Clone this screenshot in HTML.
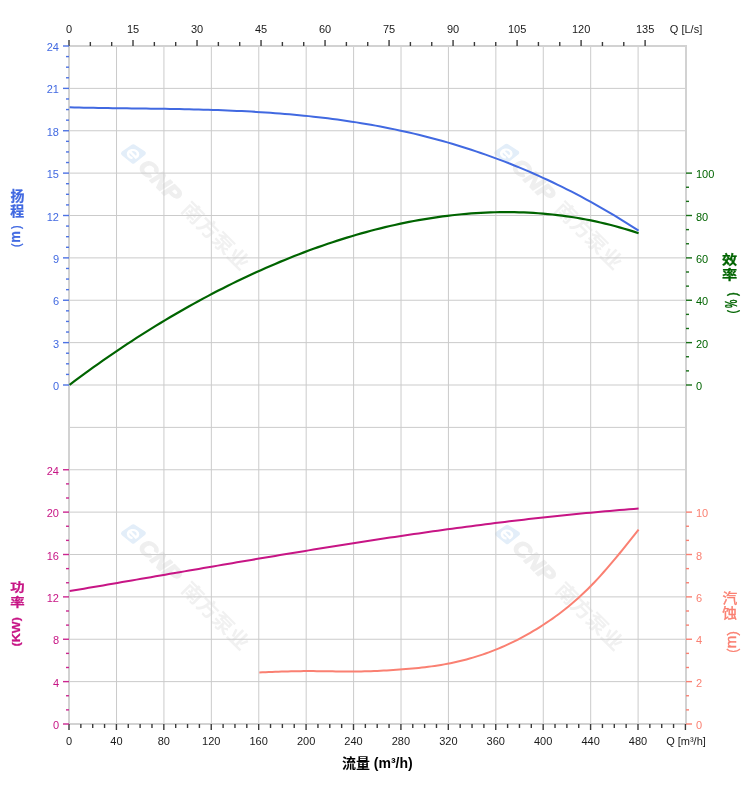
<!DOCTYPE html>
<html lang="zh-CN"><head><meta charset="utf-8"><title>流量 (m³/h)</title>
<style>html,body{margin:0;padding:0;background:#fff}body{width:752px;height:797px;position:relative;overflow:hidden}</style>
</head><body>
<svg width="752" height="797" viewBox="0 0 752 797" style="position:absolute;left:0;top:0;font-family:'Liberation Sans', 'Noto Sans CJK SC', sans-serif">
<rect width="752" height="797" fill="#fff"/>
<g transform="translate(133.5,154) rotate(45)"><path d="M-5.6,-5 L6.6,-7.6 L5,5.4 L-7.6,6.8 Z" fill="#e3eef9" stroke="#e3eef9" stroke-width="4.6" stroke-linejoin="round"/><path d="M-4.3,0.8 H4.3 A4.5,4.5 0 1 0 3,3.6" transform="skewX(-12)" fill="none" stroke="#fff" stroke-width="2.4"/><text x="12.5" y="7.3" font-size="21.5" font-weight="bold" font-style="italic" fill="#efefef" stroke="#efefef" stroke-width="1.4" stroke-linejoin="round" textLength="50.5" lengthAdjust="spacingAndGlyphs">CNP</text><text x="73" y="7" font-size="20" font-weight="bold" fill="#f1f1f1" textLength="86" lengthAdjust="spacingAndGlyphs">南方泵业</text></g>
<g transform="translate(506.8,153.5) rotate(45)"><path d="M-5.6,-5 L6.6,-7.6 L5,5.4 L-7.6,6.8 Z" fill="#e3eef9" stroke="#e3eef9" stroke-width="4.6" stroke-linejoin="round"/><path d="M-4.3,0.8 H4.3 A4.5,4.5 0 1 0 3,3.6" transform="skewX(-12)" fill="none" stroke="#fff" stroke-width="2.4"/><text x="12.5" y="7.3" font-size="21.5" font-weight="bold" font-style="italic" fill="#efefef" stroke="#efefef" stroke-width="1.4" stroke-linejoin="round" textLength="50.5" lengthAdjust="spacingAndGlyphs">CNP</text><text x="73" y="7" font-size="20" font-weight="bold" fill="#f1f1f1" textLength="86" lengthAdjust="spacingAndGlyphs">南方泵业</text></g>
<g transform="translate(133.5,534) rotate(45)"><path d="M-5.6,-5 L6.6,-7.6 L5,5.4 L-7.6,6.8 Z" fill="#e3eef9" stroke="#e3eef9" stroke-width="4.6" stroke-linejoin="round"/><path d="M-4.3,0.8 H4.3 A4.5,4.5 0 1 0 3,3.6" transform="skewX(-12)" fill="none" stroke="#fff" stroke-width="2.4"/><text x="12.5" y="7.3" font-size="21.5" font-weight="bold" font-style="italic" fill="#efefef" stroke="#efefef" stroke-width="1.4" stroke-linejoin="round" textLength="50.5" lengthAdjust="spacingAndGlyphs">CNP</text><text x="73" y="7" font-size="20" font-weight="bold" fill="#f1f1f1" textLength="86" lengthAdjust="spacingAndGlyphs">南方泵业</text></g>
<g transform="translate(507.5,534.5) rotate(45)"><path d="M-5.6,-5 L6.6,-7.6 L5,5.4 L-7.6,6.8 Z" fill="#e3eef9" stroke="#e3eef9" stroke-width="4.6" stroke-linejoin="round"/><path d="M-4.3,0.8 H4.3 A4.5,4.5 0 1 0 3,3.6" transform="skewX(-12)" fill="none" stroke="#fff" stroke-width="2.4"/><text x="12.5" y="7.3" font-size="21.5" font-weight="bold" font-style="italic" fill="#efefef" stroke="#efefef" stroke-width="1.4" stroke-linejoin="round" textLength="50.5" lengthAdjust="spacingAndGlyphs">CNP</text><text x="73" y="7" font-size="20" font-weight="bold" fill="#f1f1f1" textLength="86" lengthAdjust="spacingAndGlyphs">南方泵业</text></g>
<g stroke="#cbcbcb" stroke-width="1">
<line x1="116.52" y1="46.0" x2="116.52" y2="724.0"/>
<line x1="163.93" y1="46.0" x2="163.93" y2="724.0"/>
<line x1="211.35" y1="46.0" x2="211.35" y2="724.0"/>
<line x1="258.77" y1="46.0" x2="258.77" y2="724.0"/>
<line x1="306.18" y1="46.0" x2="306.18" y2="724.0"/>
<line x1="353.6" y1="46.0" x2="353.6" y2="724.0"/>
<line x1="401.02" y1="46.0" x2="401.02" y2="724.0"/>
<line x1="448.43" y1="46.0" x2="448.43" y2="724.0"/>
<line x1="495.85" y1="46.0" x2="495.85" y2="724.0"/>
<line x1="543.27" y1="46.0" x2="543.27" y2="724.0"/>
<line x1="590.68" y1="46.0" x2="590.68" y2="724.0"/>
<line x1="638.1" y1="46.0" x2="638.1" y2="724.0"/>
<line x1="69.0" y1="88.38" x2="686.0" y2="88.38"/>
<line x1="69.0" y1="130.75" x2="686.0" y2="130.75"/>
<line x1="69.0" y1="173.12" x2="686.0" y2="173.12"/>
<line x1="69.0" y1="215.5" x2="686.0" y2="215.5"/>
<line x1="69.0" y1="257.88" x2="686.0" y2="257.88"/>
<line x1="69.0" y1="300.25" x2="686.0" y2="300.25"/>
<line x1="69.0" y1="342.62" x2="686.0" y2="342.62"/>
<line x1="69.0" y1="385" x2="686.0" y2="385"/>
<line x1="69.0" y1="427.38" x2="686.0" y2="427.38"/>
<line x1="69.0" y1="469.75" x2="686.0" y2="469.75"/>
<line x1="69.0" y1="512.12" x2="686.0" y2="512.12"/>
<line x1="69.0" y1="554.5" x2="686.0" y2="554.5"/>
<line x1="69.0" y1="596.88" x2="686.0" y2="596.88"/>
<line x1="69.0" y1="639.25" x2="686.0" y2="639.25"/>
<line x1="69.0" y1="681.62" x2="686.0" y2="681.62"/>
</g>
<rect x="69.0" y="46.0" width="617.0" height="678.0" fill="none" stroke="#d2d2d2" stroke-width="2" shape-rendering="crispEdges"/>
<g fill="none" stroke-linecap="butt" stroke-linejoin="round">
<path d="M69.6,107.36 L74.38,107.48 L79.16,107.59 L83.94,107.69 L88.73,107.78 L93.51,107.87 L98.29,107.95 L103.07,108.02 L107.85,108.09 L112.63,108.16 L117.42,108.22 L122.2,108.28 L126.98,108.34 L131.76,108.4 L136.54,108.46 L141.32,108.52 L146.1,108.58 L150.89,108.64 L155.67,108.71 L160.45,108.78 L165.23,108.85 L170.01,108.93 L174.79,109.01 L179.57,109.1 L184.36,109.19 L189.14,109.3 L193.92,109.41 L198.7,109.53 L203.48,109.66 L208.26,109.8 L213.05,109.95 L217.83,110.11 L222.61,110.28 L227.39,110.47 L232.17,110.67 L236.95,110.88 L241.73,111.11 L246.52,111.35 L251.3,111.61 L256.08,111.88 L260.86,112.17 L265.64,112.48 L270.42,112.8 L275.21,113.15 L279.99,113.51 L284.77,113.9 L289.55,114.3 L294.33,114.72 L299.11,115.17 L303.89,115.64 L308.68,116.13 L313.46,116.64 L318.24,117.18 L323.02,117.74 L327.8,118.32 L332.58,118.93 L337.36,119.57 L342.15,120.23 L346.93,120.92 L351.71,121.64 L356.49,122.38 L361.27,123.15 L366.05,123.95 L370.84,124.78 L375.62,125.64 L380.4,126.53 L385.18,127.45 L389.96,128.4 L394.74,129.39 L399.52,130.4 L404.31,131.45 L409.09,132.53 L413.87,133.64 L418.65,134.79 L423.43,135.97 L428.21,137.18 L432.99,138.44 L437.78,139.72 L442.56,141.04 L447.34,142.4 L452.12,143.8 L456.9,145.23 L461.68,146.7 L466.47,148.21 L471.25,149.75 L476.03,151.34 L480.81,152.96 L485.59,154.63 L490.37,156.33 L495.15,158.07 L499.94,159.86 L504.72,161.68 L509.5,163.55 L514.28,165.46 L519.06,167.4 L523.84,169.4 L528.63,171.43 L533.41,173.51 L538.19,175.63 L542.97,177.79 L547.75,180 L552.53,182.25 L557.31,184.55 L562.1,186.89 L566.88,189.28 L571.66,191.71 L576.44,194.19 L581.22,196.71 L586,199.29 L590.78,201.9 L595.57,204.57 L600.35,207.28 L605.13,210.03 L609.91,212.84 L614.69,215.69 L619.47,218.6 L624.26,221.55 L629.04,224.54 L633.82,227.59 L638.6,230.69" stroke="#4169e1" stroke-width="2"/>
<path d="M69.6,384.8 L74.38,381.2 L79.16,377.64 L83.94,374.13 L88.73,370.65 L93.51,367.2 L98.29,363.8 L103.07,360.44 L107.85,357.11 L112.63,353.82 L117.42,350.57 L122.2,347.36 L126.98,344.19 L131.76,341.05 L136.54,337.95 L141.32,334.89 L146.1,331.86 L150.89,328.87 L155.67,325.92 L160.45,323 L165.23,320.12 L170.01,317.28 L174.79,314.48 L179.57,311.71 L184.36,308.97 L189.14,306.27 L193.92,303.61 L198.7,300.99 L203.48,298.4 L208.26,295.85 L213.05,293.33 L217.83,290.85 L222.61,288.4 L227.39,285.99 L232.17,283.62 L236.95,281.28 L241.73,278.98 L246.52,276.72 L251.3,274.49 L256.08,272.29 L260.86,270.14 L265.64,268.02 L270.42,265.93 L275.21,263.89 L279.99,261.88 L284.77,259.9 L289.55,257.96 L294.33,256.06 L299.11,254.2 L303.89,252.37 L308.68,250.58 L313.46,248.83 L318.24,247.12 L323.02,245.44 L327.8,243.8 L332.58,242.2 L337.36,240.64 L342.15,239.12 L346.93,237.63 L351.71,236.19 L356.49,234.78 L361.27,233.41 L366.05,232.08 L370.84,230.79 L375.62,229.55 L380.4,228.34 L385.18,227.17 L389.96,226.04 L394.74,224.96 L399.52,223.91 L404.31,222.91 L409.09,221.95 L413.87,221.03 L418.65,220.16 L423.43,219.32 L428.21,218.54 L432.99,217.79 L437.78,217.09 L442.56,216.43 L447.34,215.82 L452.12,215.25 L456.9,214.73 L461.68,214.25 L466.47,213.83 L471.25,213.44 L476.03,213.11 L480.81,212.82 L485.59,212.58 L490.37,212.39 L495.15,212.24 L499.94,212.15 L504.72,212.11 L509.5,212.11 L514.28,212.17 L519.06,212.28 L523.84,212.44 L528.63,212.65 L533.41,212.92 L538.19,213.24 L542.97,213.61 L547.75,214.04 L552.53,214.52 L557.31,215.06 L562.1,215.65 L566.88,216.3 L571.66,217 L576.44,217.77 L581.22,218.59 L586,219.47 L590.78,220.42 L595.57,221.42 L600.35,222.48 L605.13,223.6 L609.91,224.79 L614.69,226.04 L619.47,227.35 L624.26,228.72 L629.04,230.16 L633.82,231.67 L638.6,233.24" stroke="#006400" stroke-width="2.2"/>
<path d="M69.6,591.1 L74.38,590.29 L79.16,589.48 L83.94,588.67 L88.73,587.85 L93.51,587.03 L98.29,586.21 L103.07,585.39 L107.85,584.57 L112.63,583.75 L117.42,582.93 L122.2,582.11 L126.98,581.28 L131.76,580.46 L136.54,579.63 L141.32,578.81 L146.1,577.98 L150.89,577.15 L155.67,576.33 L160.45,575.5 L165.23,574.68 L170.01,573.85 L174.79,573.02 L179.57,572.2 L184.36,571.37 L189.14,570.55 L193.92,569.72 L198.7,568.9 L203.48,568.08 L208.26,567.26 L213.05,566.44 L217.83,565.62 L222.61,564.8 L227.39,563.98 L232.17,563.16 L236.95,562.35 L241.73,561.54 L246.52,560.73 L251.3,559.92 L256.08,559.11 L260.86,558.3 L265.64,557.5 L270.42,556.7 L275.21,555.9 L279.99,555.1 L284.77,554.31 L289.55,553.51 L294.33,552.72 L299.11,551.94 L303.89,551.15 L308.68,550.37 L313.46,549.59 L318.24,548.82 L323.02,548.04 L327.8,547.27 L332.58,546.51 L337.36,545.75 L342.15,544.99 L346.93,544.23 L351.71,543.48 L356.49,542.73 L361.27,541.99 L366.05,541.25 L370.84,540.51 L375.62,539.78 L380.4,539.05 L385.18,538.33 L389.96,537.61 L394.74,536.89 L399.52,536.18 L404.31,535.48 L409.09,534.78 L413.87,534.08 L418.65,533.39 L423.43,532.71 L428.21,532.02 L432.99,531.35 L437.78,530.68 L442.56,530.02 L447.34,529.36 L452.12,528.7 L456.9,528.06 L461.68,527.41 L466.47,526.78 L471.25,526.15 L476.03,525.53 L480.81,524.91 L485.59,524.3 L490.37,523.69 L495.15,523.09 L499.94,522.5 L504.72,521.92 L509.5,521.34 L514.28,520.77 L519.06,520.2 L523.84,519.64 L528.63,519.09 L533.41,518.55 L538.19,518.01 L542.97,517.49 L547.75,516.97 L552.53,516.45 L557.31,515.95 L562.1,515.45 L566.88,514.96 L571.66,514.48 L576.44,514 L581.22,513.54 L586,513.08 L590.78,512.63 L595.57,512.19 L600.35,511.75 L605.13,511.33 L609.91,510.92 L614.69,510.51 L619.47,510.11 L624.26,509.72 L629.04,509.34 L633.82,508.97 L638.6,508.61" stroke="#c71585" stroke-width="2"/>
<path d="M259.3,672.4 L262.49,672.27 L265.67,672.15 L268.86,672.02 L272.05,671.9 L275.24,671.79 L278.42,671.68 L281.61,671.57 L284.8,671.47 L287.99,671.39 L291.17,671.31 L294.36,671.24 L297.55,671.18 L300.74,671.14 L303.92,671.11 L307.11,671.1 L310.3,671.1 L313.49,671.12 L316.67,671.14 L319.86,671.18 L323.05,671.22 L326.24,671.27 L329.42,671.31 L332.61,671.36 L335.8,671.41 L338.98,671.45 L342.17,671.48 L345.36,671.5 L348.55,671.51 L351.73,671.51 L354.92,671.49 L358.11,671.46 L361.3,671.4 L364.48,671.33 L367.67,671.24 L370.86,671.14 L374.05,671.02 L377.23,670.89 L380.42,670.74 L383.61,670.57 L386.8,670.39 L389.98,670.2 L393.17,670 L396.36,669.78 L399.55,669.55 L402.73,669.31 L405.92,669.06 L409.11,668.79 L412.29,668.51 L415.48,668.21 L418.67,667.89 L421.86,667.55 L425.04,667.18 L428.23,666.79 L431.42,666.37 L434.61,665.93 L437.79,665.45 L440.98,664.93 L444.17,664.38 L447.36,663.8 L450.54,663.17 L453.73,662.51 L456.92,661.8 L460.11,661.05 L463.29,660.26 L466.48,659.43 L469.67,658.55 L472.86,657.63 L476.04,656.66 L479.23,655.65 L482.42,654.59 L485.61,653.49 L488.79,652.34 L491.98,651.14 L495.17,649.89 L498.35,648.6 L501.54,647.26 L504.73,645.86 L507.92,644.42 L511.1,642.92 L514.29,641.37 L517.48,639.78 L520.67,638.12 L523.85,636.42 L527.04,634.66 L530.23,632.85 L533.42,630.98 L536.6,629.05 L539.79,627.07 L542.98,625.03 L546.17,622.94 L549.35,620.79 L552.54,618.57 L555.73,616.29 L558.92,613.93 L562.1,611.51 L565.29,609.02 L568.48,606.44 L571.66,603.79 L574.85,601.05 L578.04,598.23 L581.23,595.32 L584.41,592.31 L587.6,589.22 L590.79,586.02 L593.98,582.72 L597.16,579.33 L600.35,575.85 L603.54,572.29 L606.73,568.66 L609.91,564.96 L613.1,561.19 L616.29,557.38 L619.48,553.51 L622.66,549.6 L625.85,545.66 L629.04,541.7 L632.23,537.71 L635.41,533.71 L638.6,529.7" stroke="#fa8072" stroke-width="2"/>
</g>
<g stroke="#3a3a3a" stroke-width="1.4">
<line x1="69" y1="40" x2="69" y2="46"/>
<line x1="90.34" y1="42" x2="90.34" y2="46"/>
<line x1="111.67" y1="42" x2="111.67" y2="46"/>
<line x1="133.01" y1="40" x2="133.01" y2="46"/>
<line x1="154.35" y1="42" x2="154.35" y2="46"/>
<line x1="175.69" y1="42" x2="175.69" y2="46"/>
<line x1="197.03" y1="40" x2="197.03" y2="46"/>
<line x1="218.36" y1="42" x2="218.36" y2="46"/>
<line x1="239.7" y1="42" x2="239.7" y2="46"/>
<line x1="261.04" y1="40" x2="261.04" y2="46"/>
<line x1="282.38" y1="42" x2="282.38" y2="46"/>
<line x1="303.71" y1="42" x2="303.71" y2="46"/>
<line x1="325.05" y1="40" x2="325.05" y2="46"/>
<line x1="346.39" y1="42" x2="346.39" y2="46"/>
<line x1="367.72" y1="42" x2="367.72" y2="46"/>
<line x1="389.06" y1="40" x2="389.06" y2="46"/>
<line x1="410.4" y1="42" x2="410.4" y2="46"/>
<line x1="431.74" y1="42" x2="431.74" y2="46"/>
<line x1="453.07" y1="40" x2="453.07" y2="46"/>
<line x1="474.41" y1="42" x2="474.41" y2="46"/>
<line x1="495.75" y1="42" x2="495.75" y2="46"/>
<line x1="517.09" y1="40" x2="517.09" y2="46"/>
<line x1="538.42" y1="42" x2="538.42" y2="46"/>
<line x1="559.76" y1="42" x2="559.76" y2="46"/>
<line x1="581.1" y1="40" x2="581.1" y2="46"/>
<line x1="602.44" y1="42" x2="602.44" y2="46"/>
<line x1="623.77" y1="42" x2="623.77" y2="46"/>
<line x1="645.11" y1="40" x2="645.11" y2="46"/>
</g>
<g stroke="#3a3a3a" stroke-width="1.4">
<line x1="69" y1="724" x2="69" y2="730"/>
<line x1="80.85" y1="724" x2="80.85" y2="728"/>
<line x1="92.71" y1="724" x2="92.71" y2="728"/>
<line x1="104.56" y1="724" x2="104.56" y2="728"/>
<line x1="116.42" y1="724" x2="116.42" y2="730"/>
<line x1="128.27" y1="724" x2="128.27" y2="728"/>
<line x1="140.12" y1="724" x2="140.12" y2="728"/>
<line x1="151.98" y1="724" x2="151.98" y2="728"/>
<line x1="163.83" y1="724" x2="163.83" y2="730"/>
<line x1="175.69" y1="724" x2="175.69" y2="728"/>
<line x1="187.54" y1="724" x2="187.54" y2="728"/>
<line x1="199.4" y1="724" x2="199.4" y2="728"/>
<line x1="211.25" y1="724" x2="211.25" y2="730"/>
<line x1="223.1" y1="724" x2="223.1" y2="728"/>
<line x1="234.96" y1="724" x2="234.96" y2="728"/>
<line x1="246.81" y1="724" x2="246.81" y2="728"/>
<line x1="258.67" y1="724" x2="258.67" y2="730"/>
<line x1="270.52" y1="724" x2="270.52" y2="728"/>
<line x1="282.38" y1="724" x2="282.38" y2="728"/>
<line x1="294.23" y1="724" x2="294.23" y2="728"/>
<line x1="306.08" y1="724" x2="306.08" y2="730"/>
<line x1="317.94" y1="724" x2="317.94" y2="728"/>
<line x1="329.79" y1="724" x2="329.79" y2="728"/>
<line x1="341.65" y1="724" x2="341.65" y2="728"/>
<line x1="353.5" y1="724" x2="353.5" y2="730"/>
<line x1="365.35" y1="724" x2="365.35" y2="728"/>
<line x1="377.21" y1="724" x2="377.21" y2="728"/>
<line x1="389.06" y1="724" x2="389.06" y2="728"/>
<line x1="400.92" y1="724" x2="400.92" y2="730"/>
<line x1="412.77" y1="724" x2="412.77" y2="728"/>
<line x1="424.62" y1="724" x2="424.62" y2="728"/>
<line x1="436.48" y1="724" x2="436.48" y2="728"/>
<line x1="448.33" y1="724" x2="448.33" y2="730"/>
<line x1="460.19" y1="724" x2="460.19" y2="728"/>
<line x1="472.04" y1="724" x2="472.04" y2="728"/>
<line x1="483.9" y1="724" x2="483.9" y2="728"/>
<line x1="495.75" y1="724" x2="495.75" y2="730"/>
<line x1="507.6" y1="724" x2="507.6" y2="728"/>
<line x1="519.46" y1="724" x2="519.46" y2="728"/>
<line x1="531.31" y1="724" x2="531.31" y2="728"/>
<line x1="543.17" y1="724" x2="543.17" y2="730"/>
<line x1="555.02" y1="724" x2="555.02" y2="728"/>
<line x1="566.88" y1="724" x2="566.88" y2="728"/>
<line x1="578.73" y1="724" x2="578.73" y2="728"/>
<line x1="590.58" y1="724" x2="590.58" y2="730"/>
<line x1="602.44" y1="724" x2="602.44" y2="728"/>
<line x1="614.29" y1="724" x2="614.29" y2="728"/>
<line x1="626.15" y1="724" x2="626.15" y2="728"/>
<line x1="638" y1="724" x2="638" y2="730"/>
<line x1="649.85" y1="724" x2="649.85" y2="728"/>
<line x1="661.71" y1="724" x2="661.71" y2="728"/>
<line x1="673.56" y1="724" x2="673.56" y2="728"/>
<line x1="685.42" y1="724" x2="685.42" y2="730"/>
</g>
<g stroke="#4d72e3" stroke-width="1.4">
<line x1="63" y1="46" x2="69" y2="46"/>
<line x1="66" y1="56.59" x2="69" y2="56.59"/>
<line x1="66" y1="67.19" x2="69" y2="67.19"/>
<line x1="66" y1="77.78" x2="69" y2="77.78"/>
<line x1="63" y1="88.38" x2="69" y2="88.38"/>
<line x1="66" y1="98.97" x2="69" y2="98.97"/>
<line x1="66" y1="109.56" x2="69" y2="109.56"/>
<line x1="66" y1="120.16" x2="69" y2="120.16"/>
<line x1="63" y1="130.75" x2="69" y2="130.75"/>
<line x1="66" y1="141.34" x2="69" y2="141.34"/>
<line x1="66" y1="151.94" x2="69" y2="151.94"/>
<line x1="66" y1="162.53" x2="69" y2="162.53"/>
<line x1="63" y1="173.12" x2="69" y2="173.12"/>
<line x1="66" y1="183.72" x2="69" y2="183.72"/>
<line x1="66" y1="194.31" x2="69" y2="194.31"/>
<line x1="66" y1="204.91" x2="69" y2="204.91"/>
<line x1="63" y1="215.5" x2="69" y2="215.5"/>
<line x1="66" y1="226.09" x2="69" y2="226.09"/>
<line x1="66" y1="236.69" x2="69" y2="236.69"/>
<line x1="66" y1="247.28" x2="69" y2="247.28"/>
<line x1="63" y1="257.88" x2="69" y2="257.88"/>
<line x1="66" y1="268.47" x2="69" y2="268.47"/>
<line x1="66" y1="279.06" x2="69" y2="279.06"/>
<line x1="66" y1="289.66" x2="69" y2="289.66"/>
<line x1="63" y1="300.25" x2="69" y2="300.25"/>
<line x1="66" y1="310.84" x2="69" y2="310.84"/>
<line x1="66" y1="321.44" x2="69" y2="321.44"/>
<line x1="66" y1="332.03" x2="69" y2="332.03"/>
<line x1="63" y1="342.62" x2="69" y2="342.62"/>
<line x1="66" y1="353.22" x2="69" y2="353.22"/>
<line x1="66" y1="363.81" x2="69" y2="363.81"/>
<line x1="66" y1="374.41" x2="69" y2="374.41"/>
<line x1="63" y1="385" x2="69" y2="385"/>
</g>
<g stroke="#cb2790" stroke-width="1.4">
<line x1="63" y1="469.75" x2="69" y2="469.75"/>
<line x1="66" y1="483.88" x2="69" y2="483.88"/>
<line x1="66" y1="498" x2="69" y2="498"/>
<line x1="63" y1="512.12" x2="69" y2="512.12"/>
<line x1="66" y1="526.25" x2="69" y2="526.25"/>
<line x1="66" y1="540.38" x2="69" y2="540.38"/>
<line x1="63" y1="554.5" x2="69" y2="554.5"/>
<line x1="66" y1="568.62" x2="69" y2="568.62"/>
<line x1="66" y1="582.75" x2="69" y2="582.75"/>
<line x1="63" y1="596.88" x2="69" y2="596.88"/>
<line x1="66" y1="611" x2="69" y2="611"/>
<line x1="66" y1="625.12" x2="69" y2="625.12"/>
<line x1="63" y1="639.25" x2="69" y2="639.25"/>
<line x1="66" y1="653.38" x2="69" y2="653.38"/>
<line x1="66" y1="667.5" x2="69" y2="667.5"/>
<line x1="63" y1="681.62" x2="69" y2="681.62"/>
<line x1="66" y1="695.75" x2="69" y2="695.75"/>
<line x1="66" y1="709.88" x2="69" y2="709.88"/>
<line x1="63" y1="724" x2="69" y2="724"/>
</g>
<g stroke="#176f17" stroke-width="1.4">
<line x1="686" y1="173.12" x2="692" y2="173.12"/>
<line x1="686" y1="187.25" x2="689" y2="187.25"/>
<line x1="686" y1="201.38" x2="689" y2="201.38"/>
<line x1="686" y1="215.5" x2="692" y2="215.5"/>
<line x1="686" y1="229.62" x2="689" y2="229.62"/>
<line x1="686" y1="243.75" x2="689" y2="243.75"/>
<line x1="686" y1="257.88" x2="692" y2="257.88"/>
<line x1="686" y1="272" x2="689" y2="272"/>
<line x1="686" y1="286.12" x2="689" y2="286.12"/>
<line x1="686" y1="300.25" x2="692" y2="300.25"/>
<line x1="686" y1="314.38" x2="689" y2="314.38"/>
<line x1="686" y1="328.5" x2="689" y2="328.5"/>
<line x1="686" y1="342.62" x2="692" y2="342.62"/>
<line x1="686" y1="356.75" x2="689" y2="356.75"/>
<line x1="686" y1="370.88" x2="689" y2="370.88"/>
<line x1="686" y1="385" x2="692" y2="385"/>
</g>
<g stroke="#fa8072" stroke-width="1.4">
<line x1="686" y1="512.12" x2="692" y2="512.12"/>
<line x1="686" y1="526.25" x2="689" y2="526.25"/>
<line x1="686" y1="540.38" x2="689" y2="540.38"/>
<line x1="686" y1="554.5" x2="692" y2="554.5"/>
<line x1="686" y1="568.62" x2="689" y2="568.62"/>
<line x1="686" y1="582.75" x2="689" y2="582.75"/>
<line x1="686" y1="596.88" x2="692" y2="596.88"/>
<line x1="686" y1="611" x2="689" y2="611"/>
<line x1="686" y1="625.12" x2="689" y2="625.12"/>
<line x1="686" y1="639.25" x2="692" y2="639.25"/>
<line x1="686" y1="653.38" x2="689" y2="653.38"/>
<line x1="686" y1="667.5" x2="689" y2="667.5"/>
<line x1="686" y1="681.62" x2="692" y2="681.62"/>
<line x1="686" y1="695.75" x2="689" y2="695.75"/>
<line x1="686" y1="709.88" x2="689" y2="709.88"/>
<line x1="686" y1="724" x2="692" y2="724"/>
</g>
<g font-size="11" fill="#1a1a1a" text-anchor="middle">
<text x="69" y="33">0</text>
<text x="133.01" y="33">15</text>
<text x="197.03" y="33">30</text>
<text x="261.04" y="33">45</text>
<text x="325.05" y="33">60</text>
<text x="389.06" y="33">75</text>
<text x="453.07" y="33">90</text>
<text x="517.09" y="33">105</text>
<text x="581.1" y="33">120</text>
<text x="645.11" y="33">135</text>
<text x="686" y="33">Q [L/s]</text>
<text x="69" y="745">0</text>
<text x="116.42" y="745">40</text>
<text x="163.83" y="745">80</text>
<text x="211.25" y="745">120</text>
<text x="258.67" y="745">160</text>
<text x="306.08" y="745">200</text>
<text x="353.5" y="745">240</text>
<text x="400.92" y="745">280</text>
<text x="448.33" y="745">320</text>
<text x="495.75" y="745">360</text>
<text x="543.17" y="745">400</text>
<text x="590.58" y="745">440</text>
<text x="638" y="745">480</text>
<text x="686" y="745">Q [m³/h]</text>
</g>
<g font-size="11" fill="#4169e1" text-anchor="end">
<text x="59" y="51">24</text>
<text x="59" y="93">21</text>
<text x="59" y="136">18</text>
<text x="59" y="178">15</text>
<text x="59" y="221">12</text>
<text x="59" y="263">9</text>
<text x="59" y="305">6</text>
<text x="59" y="348">3</text>
<text x="59" y="390">0</text>
</g>
<g font-size="11" fill="#c71585" text-anchor="end">
<text x="59" y="475">24</text>
<text x="59" y="517">20</text>
<text x="59" y="560">16</text>
<text x="59" y="602">12</text>
<text x="59" y="644">8</text>
<text x="59" y="687">4</text>
<text x="59" y="729">0</text>
</g>
<g font-size="11" fill="#006400" text-anchor="start">
<text x="696" y="178">100</text>
<text x="696" y="221">80</text>
<text x="696" y="263">60</text>
<text x="696" y="305">40</text>
<text x="696" y="348">20</text>
<text x="696" y="390">0</text>
</g>
<g font-size="11" fill="#fa8072" text-anchor="start">
<text x="696" y="517">10</text>
<text x="696" y="560">8</text>
<text x="696" y="602">6</text>
<text x="696" y="644">4</text>
<text x="696" y="687">2</text>
<text x="696" y="729">0</text>
</g>
<text x="377.3" y="768" font-size="14" font-weight="bold" fill="#000" text-anchor="middle">流量 (m³/h)</text>
<text transform="scale(0.998,0.996)" font-size="14" font-weight="bold" fill="#4169e1" stroke="#4169e1" stroke-width="0.25" text-anchor="middle"><tspan x="17.41" y="202.13">扬</tspan><tspan x="17.28" y="216.91">程</tspan></text>
<text transform="translate(21.86,248.19) scale(0.905,0.752) rotate(-90)" font-size="14" font-weight="bold" fill="#4169e1" stroke="#4169e1" stroke-width="0.25" text-anchor="middle">（</text>
<text transform="translate(20.1,237.01) scale(1.129,1.003) rotate(-90)" font-size="13" font-weight="bold" fill="#4169e1" stroke="#4169e1" stroke-width="0.25" text-anchor="middle">m</text>
<text transform="translate(21.86,224.36) scale(0.905,0.727) rotate(-90)" font-size="14" font-weight="bold" fill="#4169e1" stroke="#4169e1" stroke-width="0.25" text-anchor="middle">）</text>
<text transform="scale(1.087,0.925)" font-size="14" font-weight="bold" fill="#006400" stroke="#006400" stroke-width="0.25" text-anchor="middle"><tspan x="671.24" y="285.23">效</tspan><tspan x="671.18" y="301.31">率</tspan></text>
<text transform="translate(737.55,314.48) scale(0.979,0.703) rotate(-90)" font-size="14" font-weight="bold" fill="#006400" stroke="#006400" stroke-width="0.25" text-anchor="middle">（</text>
<text transform="translate(736.85,303.8) scale(1.205,0.726) rotate(-90)" font-size="13" font-weight="bold" fill="#006400" stroke="#006400" stroke-width="0.25" text-anchor="middle">%</text>
<text transform="translate(737.55,291.21) scale(0.979,0.752) rotate(-90)" font-size="14" font-weight="bold" fill="#006400" stroke="#006400" stroke-width="0.25" text-anchor="middle">）</text>
<text transform="scale(1.030,0.869)" font-size="14" font-weight="bold" fill="#c71585" stroke="#c71585" stroke-width="0.25" text-anchor="middle"><tspan x="16.88" y="681.29">功</tspan><tspan x="16.89" y="698.34">率</tspan></text>
<text transform="translate(19.63,631.85) scale(0.987,1.050) rotate(-90)" font-size="12" font-weight="bold" fill="#c71585" stroke="#c71585" stroke-width="0.25" text-anchor="middle">(KW)</text>
<text transform="scale(1.055,0.968)" font-size="14" font-weight="normal" fill="#fa8072" stroke="#fa8072" stroke-width="0.4" text-anchor="middle"><tspan x="691.75" y="622.59">汽</tspan><tspan x="691.52" y="638.45">蚀</tspan></text>
<text transform="translate(737.75,654.36) scale(0.996,0.857) rotate(-90)" font-size="14" font-weight="normal" fill="#fa8072" stroke="#fa8072" stroke-width="0.4" text-anchor="middle">（</text>
<text transform="translate(735.7,641.9) scale(1.143,1.156) rotate(-90)" font-size="13" font-weight="normal" fill="#fa8072" stroke="#fa8072" stroke-width="0.4" text-anchor="middle">m</text>
<text transform="translate(737.64,629.41) scale(0.987,0.943) rotate(-90)" font-size="14" font-weight="normal" fill="#fa8072" stroke="#fa8072" stroke-width="0.4" text-anchor="middle">）</text>
</svg>
</body></html>
